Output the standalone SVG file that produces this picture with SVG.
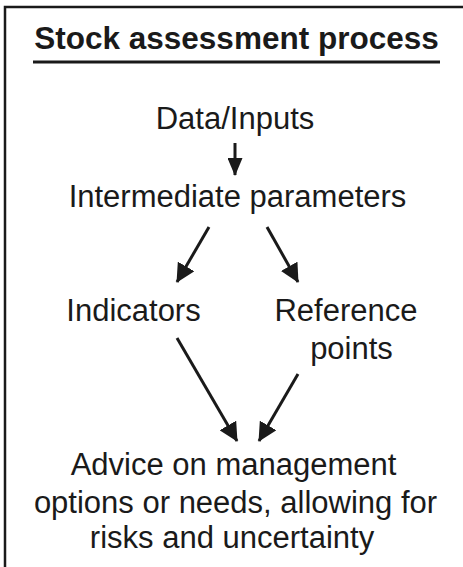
<svg xmlns="http://www.w3.org/2000/svg" width="463" height="567" viewBox="0 0 463 567">
<style>
text{font-family:"Liberation Sans",Arial,Helvetica,sans-serif;fill:#1a1a1a;font-size:31px;text-anchor:middle}
.title{font-weight:bold;font-size:31.5px}
.conn line{stroke:#1a1a1a;stroke-width:3;fill:none}
</style>
<defs>
<marker id="ah" markerUnits="userSpaceOnUse" markerWidth="19" markerHeight="19" refX="18" refY="9.5" orient="auto" viewBox="0 0 19 19">
<path d="M0,0 L19,9.5 L0,19 z" fill="#1a1a1a"/>
</marker>
<marker id="ahs" markerUnits="userSpaceOnUse" markerWidth="18" markerHeight="15" refX="17" refY="7.5" orient="auto" viewBox="0 0 18 15">
<path d="M0,0 L18,7.5 L0,15 z" fill="#1a1a1a"/>
</marker>
</defs>
<rect width="463" height="567" fill="#fff"/>
<path d="M5,567 V7 H463" fill="none" stroke="#1a1a1a" stroke-width="2.5"/>
<g id="title">
<text class="title" x="236.5" y="48.5">Stock assessment process</text>
<line x1="33" y1="62" x2="440" y2="62" stroke="#1a1a1a" stroke-width="3"/>
</g>
<g id="data"><text x="235" y="129">Data/Inputs</text></g>
<g id="intermediate"><text x="237.5" y="207">Intermediate parameters</text></g>
<g id="indicators"><text x="133.5" y="321">Indicators</text></g>
<g id="reference"><text x="346" y="321">Reference</text><text x="351.5" y="359">points</text></g>
<g id="advice">
<text x="233.5" y="475">Advice on management</text>
<text x="235.5" y="513">options or needs, allowing for</text>
<text x="232" y="548">risks and uncertainty</text>
</g>
<g class="conn" id="connectors">
<line x1="235" y1="143" x2="235" y2="175" marker-end="url(#ahs)"/>
<line x1="209" y1="227" x2="177" y2="282" marker-end="url(#ah)"/>
<line x1="267" y1="227" x2="298" y2="282" marker-end="url(#ah)"/>
<line x1="177" y1="338" x2="237" y2="441" marker-end="url(#ah)"/>
<line x1="298" y1="374" x2="259" y2="441" marker-end="url(#ah)"/>
</g>
</svg>
